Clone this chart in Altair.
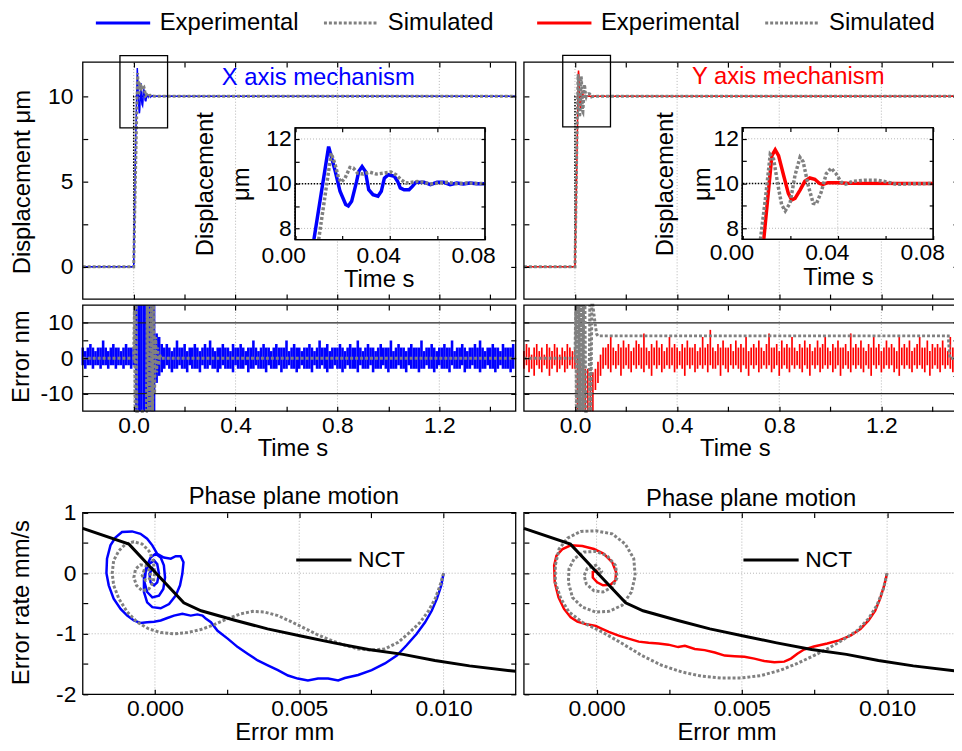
import altair as alt
import pandas as pd

# ---------------- step response: time (s) vs displacement (um) ----------------
x_exp_t = [-0.2, 0.0, 0.0079, 0.0141, 0.0169, 0.0189, 0.0213, 0.0224, 0.0238, 0.0259,
           0.0268, 0.0282, 0.0296, 0.0310, 0.0328, 0.0349, 0.0363, 0.0376, 0.0393, 0.0418,
           0.0432, 0.0443, 0.0459, 0.0480, 0.0494, 0.0508, 0.0543, 0.0570, 0.0598, 0.0626,
           0.0653, 0.0681, 0.0709, 0.0737, 0.0764, 0.0800, 1.5]
x_exp_y = [0, 0, 7.5, 11.66, 10.55, 9.66, 9.07, 9.0, 9.21, 10.1,
           10.55, 10.77, 10.55, 9.73, 9.51, 9.44, 9.66, 10.25, 10.4, 10.33,
           10.1, 9.81, 9.73, 9.73, 9.88, 10.06, 10.07, 9.96, 10.06, 10.06,
           9.96, 10.03, 9.99, 10.03, 10.0, 10.0, 10.0]
x_sim_t = [-0.2, 0.0, 0.0099, 0.0152, 0.0169, 0.0183, 0.0194, 0.0210, 0.0231, 0.0245,
           0.0263, 0.0287, 0.0314, 0.0342, 0.0370, 0.0404, 0.0425, 0.0446, 0.0467, 0.0487,
           0.0515, 0.0543, 0.0570, 0.0605, 0.0640, 0.0681, 0.0723, 0.0800, 1.5]
x_sim_y = [0, 0, 7.5, 11.36, 10.84, 10.25, 10.06, 10.25, 10.73, 10.7,
           10.47, 10.43, 10.52, 10.43, 10.47, 10.52, 10.4, 10.18, 10.03, 10.06,
           10.1, 10.06, 9.99, 10.03, 10.06, 10.0, 10.03, 10.0, 10.0]
y_exp_t = [-0.2, 0.0, 0.0090, 0.0124, 0.0138, 0.0152, 0.0173, 0.0193, 0.0207, 0.0221,
           0.0242, 0.0262, 0.0283, 0.0304, 0.0324, 0.0338, 0.0359, 0.0400, 0.0441, 0.0800, 1.5]
y_exp_y = [0, 0, 7.5, 11.25, 11.51, 11.25, 10.37, 9.56, 9.27, 9.34,
           9.71, 10.1, 10.25, 10.19, 10.0, 9.96, 10.04, 10.04, 10.01, 10.0, 10.0]
y_sim_t = [-0.2, 0.0, 0.0076, 0.0097, 0.0117, 0.0131, 0.0152, 0.0165, 0.0180, 0.0200,
           0.0221, 0.0242, 0.0255, 0.0276, 0.0297, 0.0310, 0.0331, 0.0352, 0.0372, 0.0393,
           0.0414, 0.0434, 0.0462, 0.0511, 0.0566, 0.0607, 0.0648, 0.0702, 0.0800, 1.5]
y_sim_y = [0, 0, 7.5, 9.34, 11.29, 11.1, 9.78, 9.05, 8.78, 9.12,
           10.37, 11.17, 10.98, 9.93, 9.12, 9.08, 9.63, 10.44, 10.69, 10.44,
           10.07, 9.97, 10.1, 10.15, 10.15, 10.07, 9.96, 9.99, 10.0, 10.0]
ref_t = [-0.2, 0.0, 0.0, 1.5]
ref_y = [0, 0, 10, 10]

# ---------------- tracking error (nm): min / max per 10 ms ----------------
err_t = [round(-0.2 + 0.01 * i, 2) for i in range(170)]
ex_hi = [3, 2, 3, 4, 3, 2, 3, 3, 5, 3, 2, 3, 4, 3, 3, 2, 3, 4, 3, 3,
         3, 20, 20, 20, 20, 20, 20, 20, 20, 7, 6, 4,
         3, 4, 3, 2, 3, 5, 3, 3, 4, 2, 3, 3, 4, 3, 2, 3, 4, 3, 5, 3,
         2, 3, 3, 4, 3, 3, 2, 4, 3, 3, 4, 3, 2, 3, 3, 5, 3, 2, 3, 4,
         3, 3, 2, 3, 4, 3, 3, 3, 5, 2, 3, 4, 3, 3, 2, 3, 3, 4, 3, 2,
         3, 5, 3, 3, 4, 2, 3, 3, 3, 4, 3, 2, 3, 4, 3, 3, 5, 3, 2, 3,
         4, 3, 3, 2, 3, 4, 3, 3, 3, 5, 2, 3, 4, 3, 3, 2, 3, 4, 3, 3,
         3, 5, 2, 3, 3, 4, 3, 2, 3, 3, 4, 3, 3, 5, 2, 3, 3, 4, 3, 2,
         3, 3, 4, 3, 5, 3, 2, 3, 3, 4, 3, 3, 2, 4, 3, 3, 3, 4]
ex_lo = [-2, -3, -2, -2, -3, -2, -2, -3, -2, -2, -3, -2, -2, -3, -2, -2, -3, -2, -2, -3,
         -2, -20, -20, -20, -20, -20, -20, -20, -20, -7, -5, -4,
         -3, -2, -3, -4, -3, -3, -2, -3, -3, -4, -2, -3, -3, -3, -4, -2, -3, -3, -2, -3,
         -3, -4, -3, -2, -3, -3, -3, -4, -2, -3, -3, -3, -2, -4, -3, -3, -2, -3, -3, -3,
         -4, -2, -3, -3, -3, -2, -4, -3, -3, -2, -3, -3, -4, -3, -2, -3, -3, -3, -4, -2,
         -3, -3, -2, -3, -4, -3, -3, -2, -3, -3, -4, -3, -2, -3, -3, -3, -4, -2, -3, -3,
         -3, -2, -4, -3, -3, -3, -2, -3, -4, -3, -3, -3, -2, -3, -3, -4, -2, -3, -3, -3,
         -4, -3, -3, -2, -3, -3, -4, -3, -2, -3, -3, -3, -4, -2, -3, -3, -3, -2, -4, -3,
         -3, -2, -3, -3, -4, -3, -3, -2, -3, -3, -4, -3, -2, -3, -3, -3, -4, -3]
ey_hi = [2, 4, 3, 1, 3, 4, 2, 3, 1, 4, 3, 2, 4, 3, 1, 3, 2, 4, 3, 2,
         3, 1, -1, -2, -3, -3, -4, -4, -3, -1, 1, 3,
         3, 4, 6, 3, 2, 4, 3, 5, 3, 4, 2, 3, 5, 4, 3, 7, 3, 2, 4, 3,
         5, 3, 4, 2, 3, 6, 3, 4, 3, 2, 4, 3, 5, 3, 3, 4, 2, 3, 6, 3,
         4, 8, 3, 2, 4, 3, 5, 3, 3, 4, 2, 5, 3, 4, 3, 6, 2, 3, 4, 3,
         5, 3, 2, 4, 7, 3, 3, 4, 2, 5, 3, 4, 3, 6, 3, 2, 4, 3, 5, 3,
         4, 2, 3, 5, 3, 4, 6, 3, 2, 4, 3, 5, 3, 3, 4, 2, 7, 3, 4, 3,
         5, 3, 2, 4, 3, 6, 3, 4, 2, 3, 5, 3, 4, 3, 2, 6, 3, 4, 3, 5,
         2, 3, 4, 6, 3, 3, 5, 2, 4, 3, 4, 3, 5, 3, 2, 6, 3, 4]
ey_lo = [-3, -2, -4, -3, -5, -2, -3, -4, -2, -3, -5, -3, -2, -4, -3, -2, -4, -3, -2, -3,
         -3, -20, -20, -20, -20, -20, -20, -20, -9, -7, -5, -3,
         -2, -3, -4, -2, -3, -2, -5, -3, -2, -3, -4, -2, -3, -2, -3, -4, -2, -3, -5, -2,
         -3, -2, -4, -3, -2, -3, -2, -4, -3, -2, -3, -5, -2, -3, -2, -4, -3, -2, -3, -2,
         -4, -2, -3, -3, -2, -5, -2, -3, -4, -2, -3, -2, -3, -4, -2, -3, -5, -2, -3, -2,
         -4, -3, -2, -3, -2, -4, -3, -2, -5, -3, -2, -3, -4, -2, -3, -2, -3, -4, -2, -3,
         -5, -2, -3, -2, -4, -3, -2, -3, -2, -4, -3, -2, -5, -3, -2, -3, -4, -2, -3, -2,
         -3, -4, -2, -3, -5, -2, -3, -2, -4, -3, -2, -3, -2, -4, -3, -5, -2, -3, -2, -3,
         -4, -2, -3, -2, -3, -4, -2, -5, -3, -2, -3, -4, -2, -3, -2, -3, -4, -2]
ex_sim_t = [-0.2, 0.0, 0.003, 0.006, 0.009, 0.012, 0.05, 0.054, 0.058, 0.062, 0.066,
            0.07, 0.074, 0.078, 0.082, 0.086, 0.09, 0.094, 0.098, 0.102, 0.106, 1.5]
ex_sim_v = [0, 0, 18, -18, 18, -18, -18, 18, -18, 18, -18,
            18, -18, 18, -10, 6, -4, 3, -2, 1, 0, 0]
ey_sim_t = [-0.2, 0.0, 0.003, 0.006, 0.009, 0.012, 0.015, 0.018, 0.021, 0.024, 0.027,
            0.03, 0.033, 0.036, 0.039, 0.042, 0.045, 0.055, 0.058, 0.062, 0.066, 0.07,
            0.08, 0.085, 0.09, 1.462, 1.468, 1.5]
ey_sim_v = [0, 0, 18, -18, 18, -18, 18, -18, 18, -18, 18,
            -18, 18, -18, 18, -18, -18, -18, 18, -18, 18, 18,
            9, 6.8, 6.3, 6.3, 0, 0]

# ---------------- phase plane: error (x 0.001 mm) vs error rate (mm/s) ----------------
phx_exp_e = [10.0, 9.92, 9.77, 9.59, 9.36, 9.07, 8.72, 8.38, 7.97, 7.51, 7.04, 6.58, 6.35, 6.0,
             5.65, 5.30, 4.95, 4.61, 4.26, 3.91, 3.56, 3.21, 2.87, 2.52, 2.17, 1.94, 1.76, 1.65,
             1.47, 1.24, 0.95, 0.66, 0.43, 0.20, -0.03, -0.27, -0.50, -0.73, -0.96, -1.19, -1.43,
             -1.60, -1.68, -1.66, -1.54, -1.37, -1.14, -0.79, -0.50, -0.27, -0.09, 0.08, 0.31,
             0.55, 0.72, 0.89, 0.99, 0.95, 0.87, 0.72, 0.49, 0.20, -0.09, -0.27, -0.38, -0.38,
             -0.30, -0.15, 0.02, 0.20, 0.31, 0.35, 0.29, 0.14, -0.09, -0.27, -0.36, -0.32, -0.21,
             -0.03, 0.08, 0.14, 0.08, -0.03, -0.15, -0.19, -0.09, 0.0, 0.0]
phx_exp_r = [0.0, -0.20, -0.42, -0.62, -0.81, -1.0, -1.19, -1.36, -1.49, -1.60, -1.68, -1.73, -1.77,
             -1.74, -1.74, -1.77, -1.74, -1.69, -1.60, -1.52, -1.44, -1.33, -1.22, -1.08, -0.95,
             -0.81, -0.75, -0.70, -0.68, -0.70, -0.67, -0.70, -0.74, -0.78, -0.80, -0.81, -0.82,
             -0.78, -0.70, -0.59, -0.42, -0.20, 0.0, 0.24, 0.46, 0.59, 0.68, 0.69, 0.65, 0.57,
             0.46, 0.32, 0.26, 0.24, 0.28, 0.28, 0.18, -0.01, -0.20, -0.37, -0.51, -0.58, -0.56,
             -0.48, -0.31, -0.09, 0.10, 0.26, 0.32, 0.26, 0.13, -0.07, -0.26, -0.37, -0.40, -0.31,
             -0.15, 0.02, 0.15, 0.21, 0.15, -0.01, -0.15, -0.20, -0.15, -0.01, 0.08, 0.04, 0.0]
phx_sim_e = [10.0, 9.88, 9.71, 9.48, 9.19, 8.84, 8.43, 7.97, 7.51, 7.04, 6.58, 6.11, 5.65, 5.19,
             4.72, 4.26, 3.79, 3.39, 2.98, 2.52, 2.05, 1.59, 1.13, 0.66, 0.20, -0.21, -0.61, -0.96,
             -1.25, -1.43, -1.48, -1.43, -1.25, -1.02, -0.73, -0.44, -0.21, -0.06, -0.01, -0.06,
             -0.21, -0.44, -0.64, -0.73, -0.67, -0.50, -0.29, -0.15, -0.17, -0.32, -0.44, -0.38, -0.27]
phx_sim_r = [0.0, -0.20, -0.42, -0.62, -0.81, -0.97, -1.14, -1.25, -1.27, -1.25, -1.19, -1.11, -1.02,
             -0.91, -0.80, -0.70, -0.64, -0.63, -0.67, -0.75, -0.85, -0.93, -0.98, -1.0, -0.98, -0.92,
             -0.81, -0.64, -0.42, -0.20, 0.0, 0.21, 0.37, 0.48, 0.52, 0.48, 0.37, 0.21, 0.0, -0.15,
             -0.26, -0.29, -0.20, -0.07, 0.07, 0.14, 0.12, 0.02, -0.09, -0.12, -0.04, 0.04, 0.03]
phy_exp_e = [10.0, 9.90, 9.76, 9.59, 9.36, 9.08, 8.74, 8.34, 7.94, 7.48, 7.14, 6.91, 6.69, 6.46,
             6.12, 5.77, 5.43, 5.09, 4.75, 4.41, 4.07, 3.72, 3.38, 3.04, 2.81, 2.47, 2.13, 1.79,
             1.45, 1.10, 0.76, 0.42, 0.19, -0.03, -0.38, -0.66, -0.89, -1.12, -1.31, -1.44, -1.46,
             -1.38, -1.17, -0.89, -0.49, -0.09, 0.25, 0.54, 0.67, 0.65, 0.48, 0.22, 0.02, -0.13,
             -0.13, -0.01, 0.06]
phy_exp_r = [0.0, -0.20, -0.42, -0.62, -0.78, -0.92, -1.03, -1.11, -1.16, -1.21, -1.26, -1.33, -1.41,
             -1.46, -1.47, -1.45, -1.41, -1.38, -1.37, -1.36, -1.31, -1.27, -1.25, -1.20, -1.22,
             -1.18, -1.16, -1.15, -1.13, -1.08, -1.03, -0.97, -0.92, -0.87, -0.84, -0.80, -0.73,
             -0.59, -0.40, -0.15, 0.13, 0.29, 0.40, 0.46, 0.45, 0.40, 0.32, 0.18, 0.02, -0.12,
             -0.19, -0.20, -0.15, -0.07, 0.02, 0.04, -0.01]
phy_sim_e = [10.0, 9.87, 9.65, 9.36, 8.96, 8.45, 7.94, 7.48, 6.91, 6.34, 5.66, 4.98, 4.29, 3.61,
             2.93, 2.24, 1.56, 0.88, 0.19, -0.49, -0.95, -1.23, -1.42, -1.42, -1.29, -1.0, -0.55,
             -0.03, 0.54, 0.99, 1.28, 1.33, 1.20, 0.88, 0.42, -0.03, -0.49, -0.83, -0.97, -0.95,
             -0.77, -0.43, -0.03, 0.36, 0.65, 0.71, 0.54, 0.22, -0.09, -0.35, -0.43, -0.32, -0.03,
             0.17, 0.06]
phy_sim_r = [0.0, -0.26, -0.53, -0.75, -0.95, -1.11, -1.25, -1.36, -1.49, -1.60, -1.69, -1.73, -1.73,
             -1.70, -1.63, -1.52, -1.36, -1.16, -0.97, -0.81, -0.64, -0.42, -0.15, 0.13, 0.40, 0.58,
             0.69, 0.70, 0.65, 0.48, 0.24, -0.04, -0.31, -0.53, -0.63, -0.64, -0.56, -0.40, -0.15,
             0.07, 0.24, 0.35, 0.36, 0.29, 0.13, -0.07, -0.23, -0.31, -0.29, -0.18, -0.04, 0.08,
             0.13, 0.03, -0.04]
nct_e = [-2.5, -0.9, 0.0, 1.0, 1.6, 2.8, 3.9, 5.1, 6.2, 7.4, 8.6, 9.7, 10.9, 12.5]
nct_r = [0.74, 0.48, 0.02, -0.49, -0.62, -0.78, -0.92, -1.04, -1.15, -1.26, -1.34, -1.44, -1.53, -1.62]

SERIES = ["Experimental", "Simulated"]

# ---------------- style / layout ----------------
FONT = "Liberation Sans"
FS_LAB = 23
FS_TIT = 24
FS_ROT = 24
W, H = 954, 740
TS = 5
BLUE, RED, GRAY, BLACK, GRID = "#0000ff", "#ff0000", "#808080", "#000000", "#b4b4b4"
DOT = [3, 2]

P = {
    'tl': dict(xd=[-0.2, 1.5], xr=[75.4, 512], yd=[-1.9, 12], yr=[290.4, 51.5]),
    'tr': dict(xd=[-0.2, 1.5], xr=[520.3, 958], yd=[-1.9, 12], yr=[290.4, 51.5]),
    'il': dict(xd=[0, 0.08], xr=[289.6, 481], yd=[7.5, 12.5], yr=[230.4, 117.7], clamp=True),
    'ir': dict(xd=[0, 0.08], xr=[740.5, 933], yd=[7.5, 12.5], yr=[230.3, 117.5], clamp=True),
    'ml': dict(xd=[-0.2, 1.5], xr=[75.4, 512], yd=[-15, 15], yr=[403.5, 296.5], clamp=True),
    'mr': dict(xd=[-0.2, 1.5], xr=[520.3, 958], yd=[-15, 15], yr=[403.5, 296.5], clamp=True),
    'bl': dict(xd=[-0.0025, 0.0125], xr=[75.4, 512], yd=[-2, 1], yr=[689, 505.8]),
    'br': dict(xd=[-0.0025, 0.0125], xr=[520.3, 959.8], yd=[-2, 1], yr=[689, 505.8]),
}


def S(p, ax):
    d, r = (p['xd'], p['xr']) if ax == 'x' else (p['yd'], p['yr'])
    kw = dict(domain=d, range=r, nice=False, zero=False)
    if p.get('clamp'):
        kw['clamp'] = True
    return alt.Scale(**kw)


def X(p, f, axis=None):
    return alt.X(f, type='quantitative', scale=S(p, 'x'), axis=axis)


def Y(p, f, axis=None):
    return alt.Y(f, type='quantitative', scale=S(p, 'y'), axis=axis)


NEG = "(datum.value < 0 ? '-' + format(-datum.value, 'd') : format(datum.value, 'd'))"


def AX(p, orient, values, labels=None, pad=3, title=None, tpos=None, ts=TS, loff=0,
       rot=False, lh=None):
    L, R = p['xr']
    B, T = p['yr']
    off = {'bottom': B - ts - H, 'top': -(T + ts), 'left': -(L + ts), 'right': R - ts - W}[orient]
    kw = dict(orient=orient, offset=off, values=values, tickSize=ts, tickColor=BLACK,
              tickWidth=1.2, domain=False, grid=False, labelFlush=False, labelOverlap=False,
              zindex=2)
    if labels:
        kw.update(labelExpr=labels, labelFont=FONT, labelFontSize=FS_LAB, labelColor=BLACK,
                  labelPadding=pad)
        if loff:
            kw['labelOffset'] = loff
    else:
        kw['labels'] = False
    if title:
        tx, ty = tpos
        if orient == 'bottom':
            ty = ty - (B - ts)
        if orient == 'left':
            tx = tx - (L + ts)
        kw.update(title=title, titleX=tx, titleY=ty, titleAlign='center',
                  titleBaseline='middle', titleFontWeight='normal', titleColor=BLACK,
                  titleFont=FONT)
        if rot:
            kw.update(titleAngle=270, titleFontSize=FS_ROT)
        else:
            kw.update(titleAngle=0, titleFontSize=FS_TIT)
        if lh:
            kw['titleLineHeight'] = lh
    else:
        kw['title'] = None
    return alt.Axis(**kw)


def axes_layer(p, xaxis, yaxis):
    df = pd.DataFrame({'a': [p['xd'][0]], 'b': [p['yd'][0]]})
    return alt.Chart(df).mark_point(opacity=0).encode(x=X(p, 'a:Q', xaxis), y=Y(p, 'b:Q', yaxis))


def frame(p, fill=False):
    df = pd.DataFrame({'x0': [p['xd'][0]], 'x1': [p['xd'][1]], 'y0': [p['yd'][0]], 'y1': [p['yd'][1]]})
    if fill:
        m = alt.Chart(df).mark_rect(fill='white', stroke=BLACK, strokeWidth=1.3)
    else:
        m = alt.Chart(df).mark_rect(fillOpacity=0, stroke=BLACK, strokeWidth=1.3)
    return m.encode(x=X(p, 'x0:Q'), x2='x1:Q', y=Y(p, 'y0:Q'), y2='y1:Q')


def vgrid(p, xs, color=GRID, dash=(1, 2), width=1):
    df = pd.DataFrame({'x': xs})
    df['y0'] = p['yd'][0]
    df['y1'] = p['yd'][1]
    return alt.Chart(df).mark_rule(color=color, strokeDash=list(dash), strokeWidth=width).encode(
        x=X(p, 'x:Q'), y=Y(p, 'y0:Q'), y2='y1:Q')


def hgrid(p, ys, color=GRID, dash=(1, 2), width=1):
    df = pd.DataFrame({'y': ys})
    df['x0'] = p['xd'][0]
    df['x1'] = p['xd'][1]
    m = alt.Chart(df).mark_rule(color=color, strokeDash=list(dash), strokeWidth=width) if dash else \
        alt.Chart(df).mark_rule(color=color, strokeWidth=width)
    return m.encode(y=Y(p, 'y:Q'), x=X(p, 'x0:Q'), x2='x1:Q')


def line(p, xs, ys, color, width, dash=None, order=False, scale_x=1.0):
    df = pd.DataFrame({'x': [v * scale_x for v in xs], 'y': ys})
    df['i'] = range(len(df))
    kw = dict(color=color, strokeWidth=width)
    if dash:
        kw['strokeDash'] = dash
    enc = dict(x=X(p, 'x:Q'), y=Y(p, 'y:Q'))
    if order:
        enc['order'] = alt.Order('i:Q')
    return alt.Chart(df).mark_line(**kw).encode(**enc)


def text(p, x, y, s, color, size=FS_TIT):
    df = pd.DataFrame({'x': [x], 'y': [y], 't': [s]})
    return alt.Chart(df).mark_text(font=FONT, fontSize=size, color=color, align='center',
                                   baseline='middle').encode(x=X(p, 'x:Q'), y=Y(p, 'y:Q'), text='t:N')


def legend_lines(p, et, ey, st, sy, ecol, lx):
    leg = alt.Legend(orient='none', legendX=lx, legendY=-17, direction='horizontal', title=None,
                     symbolType='stroke', symbolSize=3000, symbolStrokeWidth=3,
                     labelFont=FONT, labelFontSize=24, labelColor=BLACK, labelOffset=8,
                     columnPadding=18, labelLimit=300)
    col = alt.Color('series:N', scale=alt.Scale(domain=SERIES, range=[ecol, GRAY]), legend=leg)
    dsh = alt.StrokeDash('series:N', scale=alt.Scale(domain=SERIES, range=[[1, 0], DOT]), legend=leg)
    d1 = pd.DataFrame({'x': et, 'y': ey, 'series': SERIES[0]})
    d2 = pd.DataFrame({'x': st, 'y': sy, 'series': SERIES[1]})
    a = alt.Chart(d1).mark_line(strokeWidth=1.5).encode(x=X(p, 'x:Q'), y=Y(p, 'y:Q'), color=col, strokeDash=dsh)
    b = alt.Chart(d2).mark_line(strokeWidth=3).encode(x=X(p, 'x:Q'), y=Y(p, 'y:Q'), color=col, strokeDash=dsh)
    return [a, b]


def box(p, x0, x1, y0, y1):
    df = pd.DataFrame({'x0': [x0], 'x1': [x1], 'y0': [y0], 'y1': [y1]})
    return alt.Chart(df).mark_rect(fillOpacity=0, stroke=BLACK, strokeWidth=1.3).encode(
        x=X(p, 'x0:Q'), x2='x1:Q', y=Y(p, 'y0:Q'), y2='y1:Q')


XT = [0.0, 0.2, 0.4, 0.6, 0.8, 1.0, 1.2, 1.4]
XT_LAB = "round(datum.value * 10) % 4 === 0 ? format(datum.value, '.1f') : ''"
YT_TOP = [0, 2.5, 5, 7.5, 10]
YT_TOP_LAB = "datum.value % 5 === 0 ? format(datum.value, 'd') : ''"
YT_ERR = [-10, -5, 0, 5, 10]
YT_ERR_LAB = "datum.value % 10 === 0 ? " + NEG + " : ''"
IX = [0, 0.02, 0.04, 0.06, 0.08]
IX_LAB = "round(datum.value * 100) % 4 === 0 ? format(datum.value, '.2f') : ''"
IY = [8, 9, 10, 11, 12]
IY_LAB = "datum.value % 2 === 0 ? format(datum.value, 'd') : ''"
PX = [0, 0.0025, 0.005, 0.0075, 0.01]
PX_LAB = "round(datum.value * 10000) % 50 === 0 ? format(datum.value, '.3f') : ''"
PY = [-2, -1.5, -1, -0.5, 0, 0.5, 1]
PY_LAB = "datum.value % 1 === 0 ? " + NEG + " : ''"


def top_panel(key, et, ey, st, sy, ecol, lx, title, tpos, zb, first):
    p = P[key]
    yax = AX(p, 'left', YT_TOP, YT_TOP_LAB if first else None, pad=10,
             title='Displacement μm' if first else None, tpos=(15, 172), rot=True)
    main = alt.layer(
        vgrid(p, [0.0, 0.4, 0.8, 1.2]),
        line(p, ref_t, ref_y, BLACK, 1.5, dash=[1.5, 1.5]),
        *legend_lines(p, et, ey, st, sy, ecol, lx),
        box(p, *zb),
        text(p, tpos[0], tpos[1], title, ecol),
        frame(p),
    )
    return [main, axes_layer(p, AX(p, 'bottom', XT), yax),
            axes_layer(p, AX(p, 'top', XT), AX(p, 'right', YT_TOP))]


def inset(key, et, ey, st, sy, ecol, ttl_pos, dsp_pos, xpad, loff):
    p = P[key]
    fe = [(t, v) for t, v in zip(et, ey) if 0.005 <= t <= 0.0801]
    fs = [(t, v) for t, v in zip(st, sy) if 0.005 <= t <= 0.0801]
    main = alt.layer(
        frame(p, fill=True),
        vgrid(p, [0.04]),
        hgrid(p, [8, 12]),
        line(p, ref_t, ref_y, BLACK, 1.5, dash=[1.5, 1.5]),
        line(p, [a for a, b in fe], [b for a, b in fe], ecol, 3.5),
        line(p, [a for a, b in fs], [b for a, b in fs], GRAY, 3.5, dash=DOT),
        frame(p),
    )
    bl = axes_layer(p,
                    AX(p, 'bottom', IX, IX_LAB, pad=xpad, title='Time s', tpos=ttl_pos, ts=4, loff=loff),
                    AX(p, 'left', IY, IY_LAB, pad=4, title=['Displacement', 'μm'], tpos=dsp_pos,
                       ts=4, rot=True, lh=37))
    tr = axes_layer(p, AX(p, 'top', IX, ts=4), AX(p, 'right', IY, ts=4))
    return [main, bl, tr]


def err_panel(key, hi, lo, ecol, ewidth, sim_t, sim_v, ttl_pos, first):
    p = P[key]
    df = pd.DataFrame({'x': err_t, 'lo': lo, 'hi': hi})
    rules = alt.Chart(df).mark_rule(color=ecol, strokeWidth=ewidth).encode(
        x=X(p, 'x:Q'), y=Y(p, 'lo:Q'), y2='hi:Q')
    yax = AX(p, 'left', YT_ERR, YT_ERR_LAB if first else None, pad=10,
             title='Error nm' if first else None, tpos=(14, 348), rot=True)
    main = alt.layer(
        vgrid(p, [0.0, 0.4, 0.8, 1.2]),
        rules,
        hgrid(p, [-10, 10], color='#222222', dash=None, width=1.3),
        line(p, sim_t, sim_v, GRAY, 3, dash=DOT),
        frame(p),
    )
    return [main, axes_layer(p, AX(p, 'bottom', XT, XT_LAB, pad=3, title='Time s', tpos=ttl_pos), yax),
            axes_layer(p, AX(p, 'top', XT), AX(p, 'right', YT_ERR))]


def phase_panel(key, ee, er, se, sr, ecol, lx, tpos, ttl_pos, first):
    p = P[key]
    nct_leg = alt.Legend(orient='none', legendX=lx, legendY=524, title=None, symbolType='stroke',
                         symbolSize=3100, symbolStrokeWidth=3, labelFont=FONT, labelFontSize=23,
                         labelColor=BLACK, labelOffset=5, labelLimit=300)
    ndf = pd.DataFrame({'x': [v * 0.001 for v in nct_e], 'y': nct_r, 'curve': 'NCT'})
    ndf['i'] = range(len(ndf))
    nct = alt.Chart(ndf).mark_line(strokeWidth=3).encode(
        x=X(p, 'x:Q'), y=Y(p, 'y:Q'), order=alt.Order('i:Q'),
        color=alt.Color('curve:N', scale=alt.Scale(domain=['NCT'], range=[BLACK]), legend=nct_leg))
    yax = AX(p, 'left', PY, PY_LAB if first else None, pad=7,
             title='Error rate mm/s' if first else None, tpos=(14, 596), rot=True)
    main = alt.layer(
        vgrid(p, [0.0, 0.005, 0.01]),
        hgrid(p, [0, -1]),
        line(p, ee, er, ecol, 2.5, order=True, scale_x=0.001),
        line(p, se, sr, GRAY, 3, dash=DOT, order=True, scale_x=0.001),
        nct,
        text(p, tpos[0], tpos[1], 'Phase plane motion', BLACK),
        frame(p),
    )
    return [main, axes_layer(p, AX(p, 'bottom', PX, PX_LAB, pad=3, title='Error mm', tpos=ttl_pos), yax),
            axes_layer(p, AX(p, 'top', PX), AX(p, 'right', PY))]


layers = []
layers += top_panel('tl', x_exp_t, x_exp_y, x_sim_t, x_sim_y, BLUE, 87, 'X axis mechanism',
                    (0.725, 11.08), (-0.054, 0.133, 8.14, 12.39), True)
layers += top_panel('tr', y_exp_t, y_exp_y, y_sim_t, y_sim_y, RED, 532, 'Y axis mechanism',
                    (0.835, 11.15), (-0.048, 0.139, 8.2, 12.4), False)
layers += inset('il', x_exp_t, x_exp_y, x_sim_t, x_sim_y, BLUE, (373.8, 271), (199, 174), 5, -12)
layers += inset('ir', y_exp_t, y_exp_y, y_sim_t, y_sim_y, RED, (837, 268.5), (663, 174), 2, -11)
layers += err_panel('ml', ex_hi, ex_lo, BLUE, 2.6, ex_sim_t, ex_sim_v, (286.8, 441.5), True)
layers += err_panel('mr', ey_hi, ey_lo, RED, 1.7, ey_sim_t, ey_sim_v, (733, 441.5), False)
layers += phase_panel('bl', phx_exp_e, phx_exp_r, phx_sim_e, phx_sim_r, BLUE, 289,
                      (0.00481, 1.26), (278.5, 728), True)
layers += phase_panel('br', phy_exp_e, phy_exp_r, phy_sim_e, phy_sim_r, RED, 740,
                      (0.00532, 1.22), (724.5, 728), False)

chart = alt.layer(*layers).resolve_scale(
    x='independent', y='independent', color='independent', strokeDash='independent'
).properties(
    width=W, height=H, padding=0, autosize=alt.AutoSizeParams(type='none')
).configure_view(stroke=None)

chart.save("out.html", embed_options={"renderer": "svg", "actions": False})
